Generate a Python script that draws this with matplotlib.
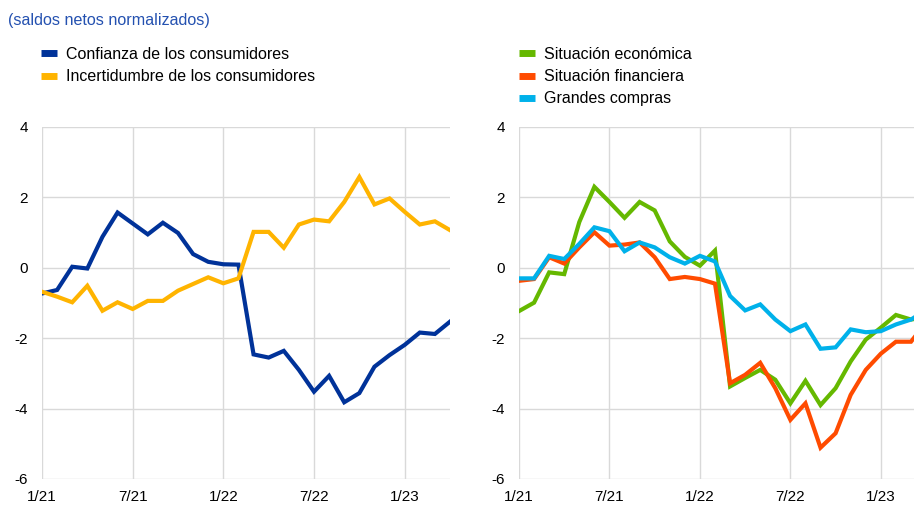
import matplotlib.pyplot as plt
from matplotlib.lines import Line2D

plt.rcParams['font.family'] = ['Liberation Sans', 'DejaVu Sans']
plt.rcParams['axes.unicode_minus'] = False

# monthly, Jan 2021 .. Apr 2023
months = list(range(28))
tick_pos = [0, 6, 12, 18, 24]
tick_labels = ['1/21', '7/21', '1/22', '7/22', '1/23']

confianza = [-0.73, -0.63, 0.03, -0.02, 0.88, 1.57, 1.26, 0.95, 1.28, 0.99,
             0.39, 0.17, 0.10, 0.09, -2.46, -2.55, -2.36, -2.90, -3.52, -3.07,
             -3.82, -3.56, -2.81, -2.48, -2.19, -1.84, -1.88, -1.53]
incertidumbre = [-0.68, -0.82, -0.98, -0.51, -1.22, -0.98, -1.17, -0.94, -0.94, -0.65,
                 -0.46, -0.27, -0.44, -0.30, 1.02, 1.02, 0.57, 1.23, 1.37, 1.32,
                 1.87, 2.58, 1.80, 1.97, 1.59, 1.23, 1.32, 1.07]

sit_economica = [-1.23, -0.99, -0.13, -0.18, 1.30, 2.30, 1.87, 1.42, 1.87, 1.63,
                 0.75, 0.31, 0.06, 0.49, -3.37, -3.13, -2.90, -3.18, -3.85, -3.21,
                 -3.90, -3.42, -2.66, -2.04, -1.70, -1.34, -1.47, -1.40]
sit_financiera = [-0.37, -0.32, 0.30, 0.12, 0.58, 1.01, 0.63, 0.66, 0.72, 0.30,
                  -0.32, -0.26, -0.32, -0.45, -3.28, -3.04, -2.70, -3.42, -4.32, -3.85,
                  -5.11, -4.70, -3.61, -2.90, -2.44, -2.10, -2.10, -1.55]
grandes_compras = [-0.30, -0.30, 0.34, 0.25, 0.68, 1.15, 1.04, 0.47, 0.72, 0.58,
                   0.30, 0.12, 0.34, 0.18, -0.80, -1.21, -1.04, -1.47, -1.80, -1.61,
                   -2.30, -2.26, -1.75, -1.83, -1.80, -1.61, -1.47, -1.20]

navy = '#003299'
yellow = '#ffb400'
green = '#65b800'
orange = '#ff4b00'
cyan = '#00b1ea'

fig = plt.figure(figsize=(9.14, 5.05), dpi=100)
ax1 = fig.add_axes([42/914, 1-479/505, 408/914, 352/505])
ax2 = fig.add_axes([519/914, 1-479/505, 395/914, 352/505])


def style(ax, xmax):
    ax.set_xlim(0, xmax)
    ax.set_ylim(-6, 4)
    ax.set_yticks([-6, -4, -2, 0, 2, 4])
    ax.set_xticks(tick_pos)
    ax.set_xticklabels(tick_labels)
    ax.grid(True, color='#d9d9d9', linewidth=1)
    ax.set_axisbelow(True)
    for s in ax.spines.values():
        s.set_visible(False)
    ax.tick_params(length=0, labelsize=11, colors='black', pad=8)
    ax.tick_params(axis='y', pad=10)


lw = 3
ax1.plot(months, confianza, color=navy, lw=lw, solid_joinstyle='miter')
ax1.plot(months, incertidumbre, color=yellow, lw=lw, solid_joinstyle='miter')
style(ax1, 27)

ax2.plot(months, sit_economica, color=green, lw=lw, solid_joinstyle='miter')
ax2.plot(months, sit_financiera, color=orange, lw=lw, solid_joinstyle='miter')
ax2.plot(months, grandes_compras, color=cyan, lw=lw, solid_joinstyle='miter')
style(ax2, 26.2)

fig.text(8/914, 1-20/505, '(saldos netos normalizados)', color='#2451b0',
         fontsize=11.6, va='center')


def legend(labels, colors, x, y):
    handles = [Line2D([], [], color=c, lw=5, solid_capstyle='butt') for c in colors]
    fig.legend(handles, labels, loc='upper left', bbox_to_anchor=(x, y),
               frameon=False, fontsize=11.5, handlelength=1.0, handletextpad=0.55,
               labelspacing=0.45, borderaxespad=0, borderpad=0)


legend(['Confianza de los consumidores', 'Incertidumbre de los consumidores'],
       [navy, yellow], 41/914, 1-47/505)
legend(['Situación económica', 'Situación financiera', 'Grandes compras'],
       [green, orange, cyan], 519/914, 1-47/505)

fig.savefig('out.png', dpi=100)
